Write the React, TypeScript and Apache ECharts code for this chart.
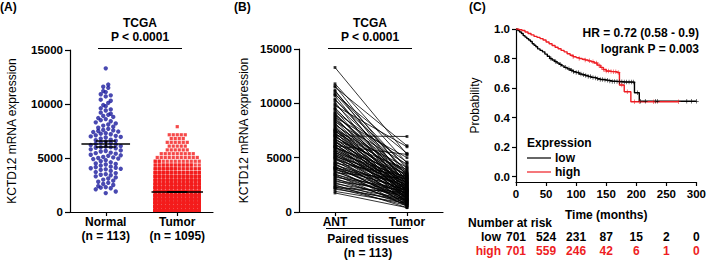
import React, { useEffect, useRef } from 'react';
import * as echarts from 'echarts';

const FONT = '"Liberation Sans", Arial, Helvetica, sans-serif';

// ---------- Panel A / B data ----------
const groupLabels = ['Normal\n(n = 113)', 'Tumor\n(n = 1095)'];
const pairedLabels = ['ANT', 'Tumor'];
const exprTicks = [0, 5000, 10000, 15000];

const normalValues = [13300, 11800, 11600, 11500, 11200, 11100, 10900, 10800, 10700, 10400, 10300, 10100,
  9900, 9800, 9600, 9500, 9400, 9200, 9100, 9000,
  8900, 8800, 8700, 8600, 8500, 8400, 8300, 8200, 8100, 8000,
  7900, 7800, 7700, 7600, 7550, 7500, 7450, 7400, 7300, 7250, 7200, 7100, 7050, 7000,
  6950, 6900, 6800, 6700, 6650, 6600, 6500, 6450, 6400, 6300, 6250, 6200, 6100, 6050, 6000, 6000,
  5950, 5900, 5800, 5700, 5650, 5600, 5500, 5450, 5400, 5300, 5250, 5200, 5100, 5050, 5000,
  4950, 4900, 4800, 4700, 4600, 4500, 4450, 4400, 4300, 4200, 4150, 4100, 4050, 4000,
  3950, 3900, 3800, 3700, 3600, 3500, 3450, 3400, 3300, 3200, 3100, 3000,
  2900, 2800, 2700, 2600, 2500, 2400, 2300, 2250, 2200, 2100,
  1900, 1750];

// paired tumour value for each ANT value above (same order)
const pairedTumor = [5300, 4500, 3300, 6100, 2800, 4000, 3600, 5400, 2500, 3100, 4200, 2000,
  3800, 6000, 2700, 3400, 1800, 4600, 2300, 3000,
  3500, 1600, 5000, 2600, 3200, 2100, 4400, 1400, 2900, 3700,
  2200, 1200, 3300, 2500, 4100, 1900, 2800, 3600, 1500, 2400, 3000, 1100, 2000, 6950,
  2700, 3400, 1700, 2300, 3900, 1300, 2600, 2100, 3100, 900, 1800, 2400, 5300, 1500, 2900, 2000,
  1200, 3500, 2200, 1600, 2700, 800, 1900, 3200, 1400, 2500, 1000, 2100, 3000, 1700, 600,
  2300, 1300, 2800, 1100, 1900, 3300, 700, 1500, 2400, 1000, 2000, 1200, 2600, 500,
  1700, 2200, 900, 1400, 3100, 1100, 1800, 600, 1300, 2100, 800, 1600,
  1000, 2000, 700, 1500, 400, 1200, 900, 1800, 600, 1100,
  800, 400];

// tumour (n = 1095) expression, read as value levels and number of samples per level
const tumorBinValues = [150, 500, 850, 1200, 1550, 1900, 2250, 2600, 2950, 3300, 3650, 4000, 4350, 4700, 5050, 5400, 5750, 6100, 6450, 6800, 7150, 7900];
const tumorBinCounts = [136, 126, 120, 110, 100, 90, 80, 70, 60, 50, 40, 30, 22, 14, 11, 9, 6, 5, 6, 4, 5, 1];

// ---------- Panel C data ----------
const kmLowTimes = [0, 3, 6, 9, 12, 15, 18, 21, 24, 27, 30, 33, 36, 40, 44, 48, 52, 56, 60, 64, 68, 72, 76, 80, 85, 90, 95, 100, 105, 110, 115, 120, 125, 130, 135, 140, 145, 150, 155, 160, 170, 180, 197, 205, 300];
const kmLowSurv = [1.0, 0.99, 0.98, 0.97, 0.955, 0.945, 0.935, 0.925, 0.915, 0.9, 0.89, 0.88, 0.865, 0.855, 0.845, 0.83, 0.815, 0.8, 0.79, 0.78, 0.77, 0.76, 0.75, 0.74, 0.73, 0.72, 0.71, 0.705, 0.695, 0.69, 0.685, 0.678, 0.672, 0.668, 0.663, 0.658, 0.655, 0.652, 0.648, 0.645, 0.642, 0.64, 0.568, 0.51, 0.51];
const kmHighTimes = [0, 5, 10, 15, 20, 25, 30, 35, 40, 45, 50, 55, 60, 65, 70, 75, 80, 85, 90, 95, 100, 105, 110, 115, 120, 125, 130, 135, 140, 145, 150, 155, 160, 168, 172, 180, 191, 270];
const kmHighSurv = [1.0, 0.995, 0.99, 0.98, 0.97, 0.96, 0.95, 0.943, 0.935, 0.925, 0.912, 0.9, 0.888, 0.876, 0.866, 0.855, 0.845, 0.832, 0.822, 0.812, 0.806, 0.8, 0.795, 0.79, 0.784, 0.778, 0.77, 0.755, 0.74, 0.725, 0.715, 0.712, 0.71, 0.705, 0.62, 0.575, 0.507, 0.507];
const censorLow = [58, 66, 74, 82, 88, 92, 96, 100, 104, 108, 112, 116, 120, 124, 128, 132, 136, 140, 144, 148, 152, 156, 160, 164, 168, 172, 176, 180, 184, 188, 192, 195, 202, 207, 215, 232, 235, 284, 292, 300];
const censorHigh = [95, 105, 115, 122, 128, 134, 138, 142, 146, 150, 154, 158, 162, 166, 170, 176, 185, 197, 205, 229, 270];
const timeTicks = [0, 50, 100, 150, 200, 250, 300];
const probTicks = [0, 0.2, 0.4, 0.6, 0.8, 1.0];
const riskTimes = [0, 50, 100, 150, 200, 250, 300];
const riskLow = [701, 524, 231, 87, 15, 2, 0];
const riskHigh = [701, 559, 246, 42, 6, 1, 0];

const BLUE = '#1c1c9e';
const RED_A = '#f21c1c';
const RED = '#ee1d23';

function swarm(values: number[], bin: number, gap: number, center: number) {
  const groups = new Map<number, number[]>();
  values.forEach((v) => {
    const k = Math.round(v / bin);
    if (!groups.has(k)) groups.set(k, []);
    groups.get(k)!.push(v);
  });
  const out: number[][] = [];
  groups.forEach((arr) => {
    arr.forEach((v, i) => {
      const side = i % 2 === 0 ? 1 : -1;
      const off = arr.length % 2 === 0 ? side * (Math.floor(i / 2) + 0.5) : side * Math.ceil(i / 2);
      out.push([center + off * gap, v]);
    });
  });
  return out;
}

function binSwarm(levels: number[], counts: number[], gap: number, maxCols: number, center: number) {
  const out: number[][] = [];
  levels.forEach((v, li) => {
    const n = counts[li];
    const cols = Math.min(n, maxCols);
    for (let i = 0; i < n; i++) {
      const c = i % cols;
      out.push([center + (c - (cols - 1) / 2) * gap, v]);
    }
  });
  return out;
}

function survAt(times: number[], surv: number[], t: number) {
  let s = surv[0];
  for (let i = 0; i < times.length; i++) if (times[i] <= t) s = surv[i];
  return s;
}

const axisCommon = {
  axisLine: { show: true, onZero: false, lineStyle: { color: '#000', width: 1.2 } },
  splitLine: { show: false },
};

export default function App() {
  const ref = useRef<HTMLDivElement>(null);
  useEffect(() => {
    const chart = echarts.init(ref.current!, null, { renderer: 'svg' });

    const unitPx = 71.5;
    const normalPts = swarm(normalValues, 420, 5.0 / unitPx, 0);
    const tumorPts = binSwarm(tumorBinValues, tumorBinCounts, 4 / unitPx, 12, 1);

    const nMean = normalValues.reduce((a, b) => a + b, 0) / normalValues.length;
    const nSd = Math.sqrt(normalValues.reduce((a, b) => a + (b - nMean) ** 2, 0) / (normalValues.length - 1));
    const nSem = nSd / Math.sqrt(normalValues.length);
    let tSum = 0, tN = 0;
    tumorBinValues.forEach((v, i) => { tSum += v * tumorBinCounts[i]; tN += tumorBinCounts[i]; });
    const tMean = tSum / tN;
    let tSs = 0;
    tumorBinValues.forEach((v, i) => { tSs += tumorBinCounts[i] * (v - tMean) ** 2; });
    const tSem = Math.sqrt(tSs / (tN - 1)) / Math.sqrt(tN);

    const meanLines = [
      { coords: [[-0.34, nMean], [0.34, nMean]] },
      { coords: [[0, nMean - nSem], [0, nMean + nSem]] },
      { coords: [[-0.14, nMean - nSem], [0.14, nMean - nSem]] },
      { coords: [[-0.14, nMean + nSem], [0.14, nMean + nSem]] },
      { coords: [[1 - 0.36, tMean], [1 + 0.36, tMean]] },
      { coords: [[1 - 0.14, tMean - tSem], [1 + 0.14, tMean - tSem]] },
      { coords: [[1 - 0.14, tMean + tSem], [1 + 0.14, tMean + tSem]] },
    ];

    const pairLines = normalValues.map((a, i) => ({ coords: [[0, a], [1, pairedTumor[i]]] }));
    const pairPts: number[][] = [];
    normalValues.forEach((a, i) => { pairPts.push([0, a]); pairPts.push([1, pairedTumor[i]]); });

    const lowData = kmLowTimes.map((t, i) => [t, kmLowSurv[i]]);
    const highData = kmHighTimes.map((t, i) => [t, kmHighSurv[i]]);
    const lowCens = censorLow.map((t) => [t, survAt(kmLowTimes, kmLowSurv, t)]);
    const highCens = censorHigh.map((t) => [t, survAt(kmHighTimes, kmHighSurv, t)]);
    const plus = 'path://M4.25,0H5.75V4.25H10V5.75H5.75V10H4.25V5.75H0V4.25H4.25Z';

    const tickLabel = { color: '#000', fontFamily: FONT, fontWeight: 'bold' as const, fontSize: 11.5 };
    const nameStyle = { color: '#000', fontFamily: FONT, fontSize: 12 };
    const plain = (v: number) => String(v);

    const option: any = {
      animation: false,
      backgroundColor: '#fff',
      grid: [
        { left: 70, top: 50, width: 143, height: 162 },
        { left: 299, top: 49, width: 144, height: 163 },
        { left: 516, top: 29, width: 184, height: 153 },
      ],
      xAxis: [
        {
          gridIndex: 0, type: 'category', data: groupLabels, boundaryGap: true,
          ...axisCommon,
          axisTick: { show: true, alignWithLabel: true, length: 4, lineStyle: { color: '#000', width: 1.2 } },
          axisLabel: { ...tickLabel, fontSize: 12, lineHeight: 14, margin: 3, interval: 0 },
        },
        { gridIndex: 0, type: 'value', min: -0.5, max: 1.5, show: false },
        {
          gridIndex: 1, type: 'category', data: pairedLabels, boundaryGap: true,
          ...axisCommon,
          axisTick: { show: true, alignWithLabel: true, length: 4, lineStyle: { color: '#000', width: 1.2 } },
          axisLabel: { ...tickLabel, fontSize: 12, lineHeight: 14, margin: 3, interval: 0 },
        },
        { gridIndex: 1, type: 'value', min: -0.5, max: 1.5, show: false },
        {
          gridIndex: 2, type: 'value', min: 0, max: 300, interval: 50,
          ...axisCommon,
          axisTick: { show: true, length: 4, lineStyle: { color: '#000', width: 1.2 } },
          axisLabel: { ...tickLabel, margin: 6, customValues: timeTicks, formatter: plain },
          name: 'Time (months)', nameLocation: 'middle', nameGap: 27,
          nameTextStyle: { ...nameStyle, fontWeight: 'bold' },
        },
      ],
      yAxis: [
        {
          gridIndex: 0, type: 'value', min: 0, max: 15000, interval: 5000,
          ...axisCommon,
          axisTick: { show: true, length: 5, lineStyle: { color: '#000', width: 1.2 } },
          axisLabel: { ...tickLabel, margin: 7, customValues: exprTicks, formatter: plain },
          name: 'KCTD12 mRNA expression', nameLocation: 'middle', nameGap: 52, nameRotate: 90,
          nameTextStyle: nameStyle,
        },
        {
          gridIndex: 1, type: 'value', min: 0, max: 15000, interval: 5000,
          ...axisCommon,
          axisTick: { show: true, length: 5, lineStyle: { color: '#000', width: 1.2 } },
          axisLabel: { ...tickLabel, margin: 7, customValues: exprTicks, formatter: plain },
          name: 'KCTD12 mRNA expression', nameLocation: 'middle', nameGap: 49, nameRotate: 90,
          nameTextStyle: nameStyle,
        },
        {
          gridIndex: 2, type: 'value', min: -0.037, max: 1.0,
          ...axisCommon,
          axisTick: { show: true, length: 4, customValues: probTicks, lineStyle: { color: '#000', width: 1.2 } },
          axisLabel: { ...tickLabel, margin: 6, customValues: probTicks, formatter: (v: number) => v.toFixed(1) },
          name: 'Probability', nameLocation: 'middle', nameGap: 35, nameRotate: 90,
          nameTextStyle: nameStyle,
        },
      ],
      series: [
        {
          type: 'scatter', xAxisIndex: 1, yAxisIndex: 0, data: tumorPts, symbol: 'rect', symbolSize: 3.2,
          itemStyle: { color: RED_A }, silent: true, z: 2,
        },
        {
          type: 'scatter', xAxisIndex: 1, yAxisIndex: 0, data: normalPts, symbol: 'circle', symbolSize: 4.4,
          itemStyle: { color: BLUE }, silent: true, z: 2,
        },
        {
          type: 'lines', coordinateSystem: 'cartesian2d', xAxisIndex: 1, yAxisIndex: 0, data: meanLines,
          lineStyle: { color: '#000', width: 1.6, opacity: 1 }, silent: true, z: 5,
        },
        {
          type: 'lines', coordinateSystem: 'cartesian2d', xAxisIndex: 3, yAxisIndex: 1, data: pairLines,
          lineStyle: { color: '#000', width: 0.8, opacity: 1 }, silent: true, z: 2,
        },
        {
          type: 'scatter', xAxisIndex: 3, yAxisIndex: 1, data: pairPts, symbol: 'rect', symbolSize: 2.8,
          itemStyle: { color: '#000' }, silent: true, z: 3,
        },
        {
          type: 'line', xAxisIndex: 4, yAxisIndex: 2, data: lowData, step: 'end', showSymbol: false,
          lineStyle: { color: '#000', width: 1.4 }, itemStyle: { color: '#000' }, silent: true, z: 3,
        },
        {
          type: 'line', xAxisIndex: 4, yAxisIndex: 2, data: highData, step: 'end', showSymbol: false,
          lineStyle: { color: RED, width: 1.4 }, itemStyle: { color: RED }, silent: true, z: 4,
        },
        {
          type: 'scatter', xAxisIndex: 4, yAxisIndex: 2, data: lowCens, symbol: plus, symbolSize: 4.5,
          itemStyle: { color: '#000' }, silent: true, z: 5,
        },
        {
          type: 'scatter', xAxisIndex: 4, yAxisIndex: 2, data: highCens, symbol: plus, symbolSize: 4.5,
          itemStyle: { color: RED }, silent: true, z: 6,
        },
      ],
    };
    chart.setOption(option);

    const txt = (text: string, x: number, y: number, opts: any = {}) => ({
      type: 'text', x, y, silent: true, z: 100,
      style: {
        text, fill: opts.fill || '#000', fontFamily: FONT, fontSize: opts.size || 12,
        fontWeight: opts.weight || 'bold', align: opts.align || 'center', verticalAlign: 'middle',
      },
    });
    const ln = (x1: number, y1: number, x2: number, y2: number, color = '#000', w = 1.2) => ({
      type: 'line', silent: true, z: 100, shape: { x1, y1, x2, y2 }, style: { stroke: color, lineWidth: w },
    });

    const g: any[] = [
      txt('(A)', 0, 7, { align: 'left' }),
      txt('(B)', 234, 7, { align: 'left' }),
      txt('(C)', 469, 7, { align: 'left' }),
      txt('TCGA', 140, 23), txt('P < 0.0001', 140, 37), ln(98, 48.5, 182, 48.5),
      txt('TCGA', 370, 23), txt('P < 0.0001', 370, 37), ln(328, 48.5, 412, 48.5),
      ln(326, 228.5, 411, 228.5),
      txt('Paired tissues', 368, 239), txt('(n = 113)', 368, 253),
      txt('HR = 0.72 (0.58 - 0.9)', 699, 33, { align: 'right' }),
      txt('logrank P = 0.003', 699, 49, { align: 'right' }),
      txt('Expression', 527, 143, { align: 'left' }),
      ln(527, 158, 551, 158, '#000', 1.2), txt('low', 555, 158, { align: 'left' }),
      ln(527, 172, 551, 172, RED, 1.2), txt('high', 555, 172, { align: 'left' }),
      txt('Number at risk', 468, 223, { align: 'left' }),
      txt('low', 501, 237, { align: 'right' }),
      txt('high', 501, 251, { align: 'right', fill: RED }),
    ];
    riskTimes.forEach((t, i) => {
      const px = chart.convertToPixel({ xAxisIndex: 4 } as any, t) as number;
      g.push(txt(String(riskLow[i]), px, 237));
      g.push(txt(String(riskHigh[i]), px, 251, { fill: RED }));
    });
    chart.setOption({ graphic: g });

    return () => chart.dispose();
  }, []);
  return <div ref={ref} style={{ position: 'absolute', left: 0, top: 0, width: 709, height: 267 }} />;
}
